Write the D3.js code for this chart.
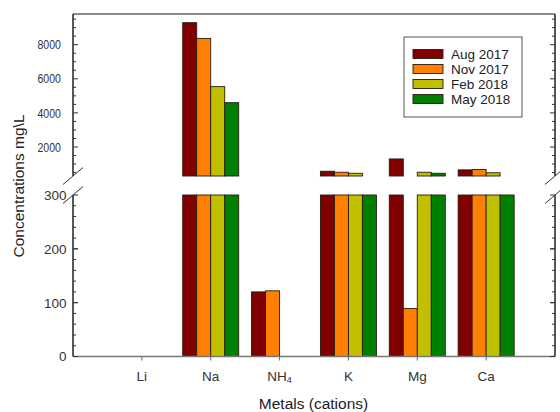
<!DOCTYPE html>
<html>
<head>
<meta charset="utf-8">
<script src="https://cdn.jsdelivr.net/npm/d3@7"></script>
<style>
  html, body { margin: 0; padding: 0; background: #fff; }
  svg { display: block; font-family: "Liberation Sans", Arial, sans-serif; }
</style>
</head>
<body>
<svg id="chart" width="560" height="412"></svg>
<script>
// Cation concentrations (mg/L) per sampling campaign
const categories = ["Li", "Na", "NH4", "K", "Mg", "Ca"];
const seriesNames = ["Aug 2017", "Nov 2017", "Feb 2018", "May 2018"];
const seriesColors = ["#800000", "#ff8000", "#c0c000", "#008000"];
const aug2017 = [0, 9290, 120, 580, 1300, 660];
const nov2017 = [0, 8370, 122, 520, 89, 680];
const feb2018 = [0, 5540, 0, 460, 520, 490];
const may2018 = [0, 4600, 0, 300, 460, 300];
const upperTicks = [2000, 4000, 6000, 8000];
const lowerTicks = [0, 100, 200, 300];
const breakValue = 300;

const seriesValues = [aug2017, nov2017, feb2018, may2018];

const svg = d3.select("#chart");
const plotLeft = 73, plotRight = 555, plotTop = 14, plotBottom = 356.5;
const lowerTop = 195, upperBottom = 176;

// x: category slots 1..6 on a 0..7 axis
const x = d3.scaleLinear().domain([0, categories.length + 1]).range([plotLeft, plotRight]);
const inner = d3.scaleBand().domain(seriesNames).range([-28, 28]);

// y: broken axis, lower part 0..300, upper part 300..9800
const yLow = d3.scaleLinear().domain([0, breakValue]).range([plotBottom, lowerTop]);
const yHigh = d3.scaleLinear().domain([breakValue, 9800]).range([upperBottom, plotTop]);

const rows = [];
categories.forEach((c, i) => {
  seriesNames.forEach((s, j) => {
    rows.push({ cat: c, idx: i, series: s, color: seriesColors[j], value: seriesValues[j][i] });
  });
});

const barG = svg.append("g");
// lower segment bars
barG.selectAll("rect.low")
  .data(rows.filter(d => d.value > 0))
  .join("rect")
  .attr("class", "low")
  .attr("x", d => x(d.idx + 1) + inner(d.series))
  .attr("width", inner.bandwidth())
  .attr("y", d => yLow(Math.min(d.value, breakValue)))
  .attr("height", d => yLow(0) - yLow(Math.min(d.value, breakValue)))
  .attr("fill", d => d.color)
  .attr("stroke", "#2a1a10")
  .attr("stroke-width", 0.9);

// upper segment bars
barG.selectAll("rect.high")
  .data(rows.filter(d => d.value > breakValue))
  .join("rect")
  .attr("class", "high")
  .attr("x", d => x(d.idx + 1) + inner(d.series))
  .attr("width", inner.bandwidth())
  .attr("y", d => yHigh(d.value))
  .attr("height", d => yHigh(breakValue) - yHigh(d.value))
  .attr("fill", d => d.color)
  .attr("stroke", "#2a1a10")
  .attr("stroke-width", 0.9);

// frame: top and bottom lines
svg.append("line").attr("x1", plotLeft).attr("x2", plotRight).attr("y1", plotTop).attr("y2", plotTop)
  .attr("stroke", "#666").attr("stroke-width", 1.5);
svg.append("line").attr("x1", plotLeft).attr("x2", plotRight).attr("y1", plotBottom).attr("y2", plotBottom)
  .attr("stroke", "#777").attr("stroke-width", 1.5);

// vertical axis segments with inward ticks (left and mirrored right)
function vAxis(xPos, dir) {
  const g = svg.append("g");
  g.append("line").attr("x1", xPos).attr("x2", xPos).attr("y1", plotTop).attr("y2", upperBottom)
    .attr("stroke", "#222").attr("stroke-width", 1.5);
  g.append("line").attr("x1", xPos).attr("x2", xPos).attr("y1", lowerTop).attr("y2", plotBottom)
    .attr("stroke", "#222").attr("stroke-width", 1.5);
  const upMinor = d3.range(500, 9800, 500);
  const lowMinor = d3.range(20, 300, 20);
  g.selectAll("line.um").data(upMinor).join("line")
    .attr("class", "um")
    .attr("x1", xPos)
    .attr("x2", v => xPos + dir * (upperTicks.includes(v) ? 5 : 3))
    .attr("y1", v => yHigh(v)).attr("y2", v => yHigh(v))
    .attr("stroke", "#333").attr("stroke-width", 1);
  g.selectAll("line.lm").data(lowMinor.concat(lowerTicks)).join("line")
    .attr("class", "lm")
    .attr("x1", xPos)
    .attr("x2", v => xPos + dir * (lowerTicks.includes(v) ? 5 : 3))
    .attr("y1", v => yLow(v)).attr("y2", v => yLow(v))
    .attr("stroke", "#333").attr("stroke-width", 1);
  // break marks
  [upperBottom, lowerTop].forEach(yb => {
    g.append("line")
      .attr("x1", xPos - 10).attr("y1", yb + 8.5)
      .attr("x2", xPos + 10).attr("y2", yb - 8.5)
      .attr("stroke", "#333").attr("stroke-width", 1);
  });
}
vAxis(plotLeft, 1);
vAxis(plotRight, -1);

// tick labels
svg.append("g").selectAll("text").data(upperTicks).join("text")
  .attr("x", 61).attr("y", v => yHigh(v)).attr("dy", "0.36em")
  .attr("text-anchor", "end").attr("font-size", 13)
  .attr("textLength", 23.5).attr("lengthAdjust", "spacingAndGlyphs")
  .attr("fill", "#333").text(v => v);
svg.append("g").selectAll("text").data(lowerTicks).join("text")
  .attr("x", 66.5).attr("y", v => yLow(v)).attr("dy", "0.36em")
  .attr("text-anchor", "end").attr("font-size", 13.5)
  .attr("fill", "#333").text(v => v);

// x ticks and category labels
svg.append("g").selectAll("line").data(categories).join("line")
  .attr("x1", (d, i) => x(i + 1)).attr("x2", (d, i) => x(i + 1))
  .attr("y1", plotBottom).attr("y2", plotBottom + 4)
  .attr("stroke", "#666").attr("stroke-width", 1);
const catLabels = svg.append("g").selectAll("text").data(categories).join("text")
  .attr("x", (d, i) => x(i + 1)).attr("y", 380.5)
  .attr("text-anchor", "middle").attr("font-size", 13.5).attr("fill", "#333");
catLabels.each(function (d) {
  const t = d3.select(this);
  const m = d.match(/^([A-Za-z]+?)(\d+)$/);
  if (m) {
    t.append("tspan").text(m[1]);
    t.append("tspan").attr("font-size", 9).attr("dy", 2.5).text(m[2]);
  } else {
    t.text(d);
  }
});

// axis titles
svg.append("text").attr("x", 313.5).attr("y", 409)
  .attr("text-anchor", "middle").attr("font-size", 15.5).attr("fill", "#222")
  .text("Metals (cations)");
svg.append("text")
  .attr("transform", "translate(24,186) rotate(-90)")
  .attr("text-anchor", "middle").attr("font-size", 15.5).attr("fill", "#222")
  .text("Concentrations mg\\L");

// legend
const lg = svg.append("g");
lg.append("rect").attr("x", 404).attr("y", 37).attr("width", 118).attr("height", 80)
  .attr("fill", "#fff").attr("stroke", "#555").attr("stroke-width", 1);
const items = lg.selectAll("g.item").data(seriesNames).join("g")
  .attr("class", "item")
  .attr("transform", (d, i) => `translate(413,${49.5 + i * 15})`);
items.append("rect").attr("width", 30).attr("height", 9)
  .attr("fill", (d, i) => seriesColors[i]).attr("stroke", "#2a1a10").attr("stroke-width", 0.9);
items.append("text").attr("x", 38).attr("y", 4.5).attr("dy", "0.36em")
  .attr("font-size", 13.5).attr("fill", "#222").text(d => d);
</script>
</body>
</html>
